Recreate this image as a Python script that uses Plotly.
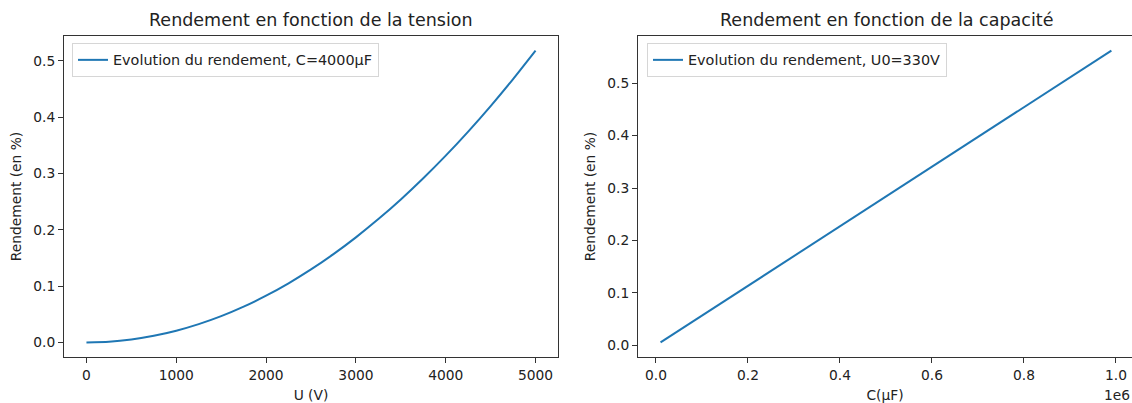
import plotly.graph_objects as go

# Left chart: efficiency vs voltage (C = 4000 µF)
tension_U = [0, 250, 500, 750, 1000, 1250, 1500, 1750, 2000, 2250, 2500,
             2750, 3000, 3250, 3500, 3750, 4000, 4250, 4500, 4750, 5000]
rendement_U = [0.000, 0.0013, 0.0052, 0.0117, 0.0207, 0.0324, 0.0466, 0.0635,
               0.0829, 0.1049, 0.1295, 0.1567, 0.1865, 0.2189, 0.2538, 0.2914,
               0.3315, 0.3743, 0.4196, 0.4675, 0.518]

# Right chart: efficiency vs capacitance (U0 = 330 V)
capacite_C = [10000, 100000, 200000, 300000, 400000, 500000, 600000,
              700000, 800000, 900000, 990000]
rendement_C = [0.0057, 0.0568, 0.1135, 0.1703, 0.2271, 0.2838, 0.3406,
               0.3974, 0.4541, 0.5109, 0.562]

y_ticks = [0.0, 0.1, 0.2, 0.3, 0.4, 0.5]
x_ticks_left = [0, 1000, 2000, 3000, 4000, 5000]
x_ticks_right = [0, 200000, 400000, 600000, 800000, 1000000]
x_ticklabels_right = ["0.0", "0.2", "0.4", "0.6", "0.8", "1.0"]

COLOR = "#1f77b4"
TXT = "#222222"
FONT = "DejaVu Sans"
W, H = 1132, 403
TICK_SIZE = 13.8
LEG_SIZE = 14.4
TITLE_SIZE = 17.5

def px_x(p):
    return p / W

def px_y(p):
    return 1 - p / H

fig = go.Figure()
fig.add_trace(go.Scatter(x=tension_U, y=rendement_U, mode="lines",
                         line=dict(color=COLOR, width=2, shape="spline", smoothing=0.6),
                         name="Evolution du rendement, C=4000µF", showlegend=True,
                         xaxis="x", yaxis="y", legend="legend"))
fig.add_trace(go.Scatter(x=capacite_C, y=rendement_C, mode="lines",
                         line=dict(color=COLOR, width=2),
                         name="Evolution du rendement, U0=330V", showlegend=True,
                         xaxis="x2", yaxis="y2", legend="legend2"))

axis_common = dict(showline=True, linecolor="#333333", linewidth=1, mirror=True,
                   ticks="outside", ticklen=5, tickcolor="#333333", showgrid=False,
                   zeroline=False, ticklabeloverflow="allow",
                   tickfont=dict(family=FONT, size=TICK_SIZE, color=TXT),
                   title_font=dict(family=FONT, size=TICK_SIZE, color=TXT))

ydom = [px_y(357), px_y(36)]
legend_common = dict(xanchor="left", yanchor="top", itemwidth=30,
                     bgcolor="rgba(255,255,255,0.8)", bordercolor="#d6d6d6", borderwidth=1,
                     font=dict(family=FONT, size=LEG_SIZE, color=TXT),
                     tracegroupgap=0)

fig.update_layout(
    width=W, height=H,
    showlegend=True,
    margin=dict(l=0, r=0, t=0, b=0),
    paper_bgcolor="white", plot_bgcolor="white",
    font=dict(family=FONT, size=TICK_SIZE, color=TXT),
    xaxis=dict(domain=[px_x(64), px_x(558)], range=[-250, 5250],
               tickvals=x_ticks_left, title=dict(text="U (V)", standoff=9),
               anchor="y", automargin=False, **axis_common),
    yaxis=dict(domain=ydom, range=[-0.0259, 0.5439], tickvals=y_ticks,
               tickformat=".1f", title=dict(text="Rendement (en %)", standoff=8),
               anchor="x", automargin=False, **axis_common),
    xaxis2=dict(domain=[px_x(638), 1.0], range=[-39000, 1034800],
                tickvals=x_ticks_right, ticktext=x_ticklabels_right,
                title=dict(text="C(µF)", standoff=9), anchor="y2",
                automargin=False, **axis_common),
    yaxis2=dict(domain=ydom, range=[-0.0221, 0.5898], tickvals=y_ticks,
                tickformat=".1f", title=dict(text="Rendement (en %)", standoff=8),
                anchor="x2", automargin=False, **axis_common),
    legend=dict(x=px_x(72), y=px_y(43), **legend_common),
    legend2=dict(x=px_x(647), y=px_y(43), **legend_common),
    annotations=[
        dict(text="Rendement en fonction de la tension", x=px_x(311),
             y=px_y(20), xref="paper", yref="paper", showarrow=False,
             xanchor="center", yanchor="middle",
             font=dict(family=FONT, size=TITLE_SIZE, color=TXT)),
        dict(text="Rendement en fonction de la capacité", x=px_x(886),
             y=px_y(20), xref="paper", yref="paper", showarrow=False,
             xanchor="center", yanchor="middle",
             font=dict(family=FONT, size=TITLE_SIZE, color=TXT)),
        dict(text="1e6", x=px_x(1117), y=px_y(395), xref="paper", yref="paper",
             xanchor="center", yanchor="middle", showarrow=False,
             font=dict(family=FONT, size=TICK_SIZE, color=TXT)),
    ],
)

fig.write_html("out.html",
               config={"displayModeBar": False},
               post_script="document.body.style.margin='0px';document.body.style.overflow='hidden';")
